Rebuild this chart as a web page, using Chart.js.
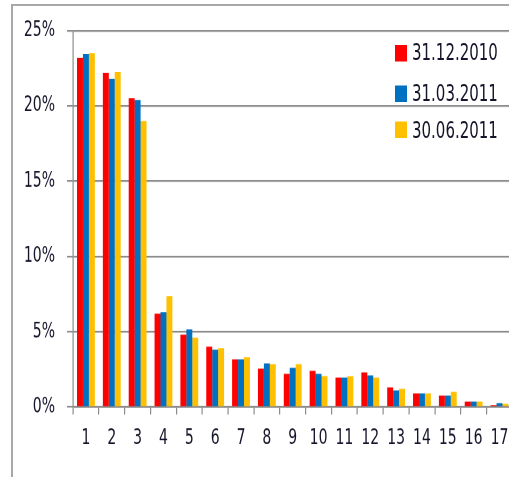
<!DOCTYPE html>
<html><head><meta charset="utf-8">
<script src="https://cdn.jsdelivr.net/npm/chart.js@4/dist/chart.umd.min.js"></script>
<style>
html,body{margin:0;padding:0;overflow:hidden;background:#fff;width:509px;height:477px;position:relative}
#frame{position:absolute;left:11px;top:4px;width:600px;height:600px;border-left:2px solid #a8a8a8;border-top:2px solid #a8a8a8;box-sizing:border-box}
#wrap{position:absolute;left:0;top:0;width:516px;height:318px;transform:scaleY(1.5);transform-origin:0 0}
#c{position:absolute;left:0;top:0}
.item{position:absolute;font-family:'DejaVu Sans';font-size:15px;color:#14142a;white-space:nowrap;line-height:15px}
.sw{position:absolute;width:12px;height:11px}
</style></head>
<body>
<div id="frame"></div>
<div id="wrap"><canvas id="c" width="516" height="318"></canvas><div id="legend"></div></div>
<script>
const categories = ['1','2','3','4','5','6','7','8','9','10','11','12','13','14','15','16','17'];
const seriesNames = ['31.12.2010','31.03.2011','30.06.2011'];
const values2010_12 = [23.2, 22.2, 20.5, 6.2, 4.8, 4.0, 3.15, 2.55, 2.2, 2.4, 1.95, 2.3, 1.3, 0.9, 0.75, 0.35, 0.12];
const values2011_03 = [23.45, 21.8, 20.4, 6.3, 5.15, 3.8, 3.15, 2.9, 2.6, 2.2, 1.95, 2.1, 1.1, 0.9, 0.75, 0.35, 0.25];
const values2011_06 = [23.5, 22.25, 19.0, 7.35, 4.6, 3.9, 3.3, 2.85, 2.85, 2.05, 2.05, 1.95, 1.2, 0.9, 1.0, 0.35, 0.2];
const colors = ['#FF0000','#0070C0','#FFC000'];
const yTicks = [0,5,10,15,20,25];

const textColor = '#14142a';
const gridColor = '#8c8c8c';

const chart = new Chart(document.getElementById('c'), {
  type: 'bar',
  data: {
    labels: categories,
    datasets: [values2010_12, values2011_03, values2011_06].map((d,i)=>({
      label: seriesNames[i], data: d, backgroundColor: colors[i], borderWidth: 0,
      categoryPercentage: 0.69, barPercentage: 1.0
    }))
  },
  options: {
    responsive: false,
    animation: false,
    devicePixelRatio: 2,
    layout: { padding: { top: 19.3, right: 3, bottom: 0, left: 0 } },
    plugins: { legend: { display: false }, tooltip: { enabled: false } },
    scales: {
      x: {
        grid: { display: true, drawOnChartArea: false, offset: true, tickLength: 5, color: gridColor, lineWidth: 1.2 },
        border: { display: true, color: gridColor, width: 1.2 },
        ticks: { color: textColor, font: { family: 'DejaVu Sans', size: 14 }, padding: 7.5, maxRotation: 0, autoSkip: false },
        afterFit: s => { s.height = 46.7; }
      },
      y: {
        min: 0, max: 25,
        afterBuildTicks: s => { s.ticks = yTicks.map(v => ({ value: v })); },
        grid: { color: gridColor, lineWidth: 1.2, tickLength: 6 },
        border: { display: true, color: gridColor, width: 1.2 },
        ticks: { color: textColor, font: { family: 'DejaVu Sans', size: 14 }, padding: 12, callback: v => v + '%' },
        afterFit: s => { s.width = 73; }
      }
    }
  }
});

const legendCenters = [35.6, 62.2, 86.7];
const lg = document.getElementById('legend');
seriesNames.forEach((n,i)=>{
  const sw = document.createElement('div');
  sw.className = 'sw';
  sw.style.left = '395px';
  sw.style.top = (legendCenters[i] - 5.5) + 'px';
  sw.style.background = colors[i];
  lg.appendChild(sw);
  const t = document.createElement('div');
  t.className = 'item';
  t.style.left = '412px';
  t.style.top = (legendCenters[i] - 7.2) + 'px';
  t.textContent = n;
  lg.appendChild(t);
});
</script>
</body></html>
